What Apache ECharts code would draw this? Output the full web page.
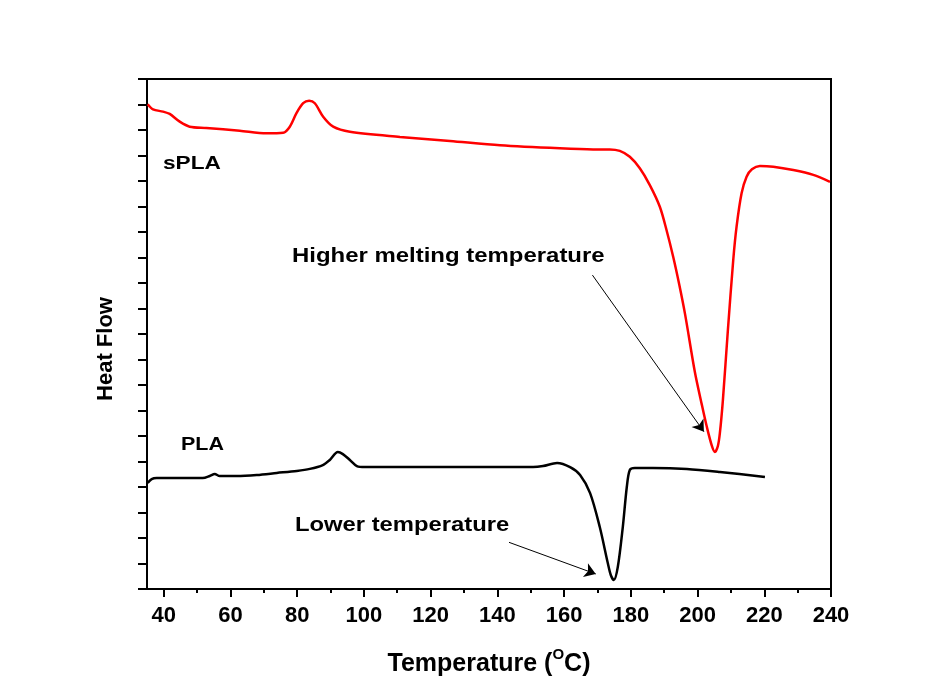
<!DOCTYPE html>
<html>
<head>
<meta charset="utf-8">
<script src="https://cdn.jsdelivr.net/npm/echarts@6/dist/echarts.min.js"></script>
<style>html,body{margin:0;padding:0;background:#fff;}#c{width:952px;height:679px;}</style>
</head>
<body>
<div id="c"></div>
<script>
// Data
const sPLA_T  = [35.2, 36.8, 39.8, 41.8, 44.8, 47.8, 52.8, 62.8, 70.8, 75.8, 77.8, 79.8, 81.8, 83.6, 85.3, 87.8, 90.8, 95.8, 110.8, 125.8, 140.8, 158.7, 168.7, 173.7, 176.7, 179.7, 182.7, 185.7, 188.7, 190.7, 192.7, 194.5, 196.3, 199.2, 201.3, 202.8, 204.3, 205.2, 206.1, 206.7, 207.6, 209.1, 210.7, 211.7, 213.2, 214.7, 216.3, 218.7, 222.7, 228.7, 234.7, 239.7];
const sPLA_HF = [19.01, 18.81, 18.72, 18.63, 18.33, 18.13, 18.08, 17.97, 17.87, 17.89, 18.13, 18.66, 19.05, 19.15, 19.05, 18.52, 18.13, 17.93, 17.73, 17.57, 17.40, 17.28, 17.24, 17.24, 17.18, 16.95, 16.50, 15.84, 14.99, 14.08, 13.03, 11.95, 10.75, 8.51, 7.22, 6.35, 5.61, 5.37, 5.61, 6.12, 7.41, 10.16, 12.90, 14.21, 15.52, 16.17, 16.46, 16.59, 16.56, 16.43, 16.24, 15.97];
const PLA_T   = [35.2, 36.4, 37.9, 43.9, 51.7, 53.8, 55.3, 56.8, 61.9, 67.9, 73.9, 79.9, 83.8, 87.7, 89.8, 92.2, 93.7, 95.8, 97.9, 100.3, 110.8, 125.8, 140.8, 150.7, 153.7, 157.9, 161.8, 164.8, 167.8, 170.7, 173.1, 174.0, 174.9, 176.1, 177.6, 178.8, 179.7, 181.2, 186.6, 196.8, 206.7, 220.2];
const PLA_HF  = [4.16, 4.31, 4.35, 4.35, 4.35, 4.43, 4.51, 4.43, 4.43, 4.47, 4.55, 4.63, 4.71, 4.86, 5.06, 5.37, 5.29, 5.06, 4.82, 4.78, 4.78, 4.78, 4.78, 4.78, 4.82, 4.94, 4.78, 4.47, 3.76, 2.43, 1.02, 0.55, 0.35, 0.86, 2.43, 4.00, 4.67, 4.75, 4.75, 4.71, 4.59, 4.39];
const xMajorTicks = [40, 60, 80, 100, 120, 140, 160, 180, 200, 220, 240];
const xMinorTicks = [50, 70, 90, 110, 130, 150, 170, 190, 210, 230];
const arrowHigh = [[168.5, 12.31], [201.9, 6.17]];
const arrowLow  = [[143.5, 1.83], [169.5, 0.59]];

const zip = (a, b) => a.map((v, i) => [v, b[i]]);
const FONT = '"Liberation Sans", Arial, sans-serif';

const chart = echarts.init(document.getElementById('c'), null, {renderer: 'canvas'});
const common = {min: 35, max: 240};
chart.setOption({
  animation: false,
  backgroundColor: '#ffffff',
  grid: {left: 147, right: 121, top: 79, bottom: 90, show: true, borderColor: '#000', borderWidth: 2, backgroundColor: 'transparent', containLabel: false, outerBoundsMode: 'none'},
  xAxis: [
    Object.assign({
      type: 'value', position: 'bottom',
      axisLine: {show: true, lineStyle: {color: '#000', width: 2}},
      axisTick: {show: true, inside: false, length: 8, lineStyle: {color: '#000', width: 2}, customValues: xMajorTicks},
      axisLabel: {show: true, customValues: xMajorTicks, margin: 16, color: '#000', fontWeight: 'bold', fontSize: 22, fontFamily: FONT},
      splitLine: {show: false},
      name: 'Temperature ({sup|O}C)', nameLocation: 'middle', nameGap: 58,
      nameTextStyle: {color: '#000', fontWeight: 'bold', fontSize: 25, fontFamily: FONT,
        rich: {sup: {fontSize: 15, fontWeight: 'bold', fontFamily: FONT, color: '#000', verticalAlign: 'top', padding: [0, 0, 20, 0]}}}
    }, common),
    Object.assign({
      type: 'value', position: 'bottom',
      axisLine: {show: false},
      axisTick: {show: true, inside: false, length: 4, lineStyle: {color: '#000', width: 2}, customValues: xMinorTicks},
      axisLabel: {show: false},
      splitLine: {show: false}
    }, common)
  ],
  yAxis: {
    type: 'value', min: 0, max: 20, interval: 1,
    axisLine: {show: true, lineStyle: {color: '#000', width: 2}},
    axisTick: {show: true, inside: false, length: 9, lineStyle: {color: '#000', width: 2}},
    axisLabel: {show: false},
    splitLine: {show: false},
    name: 'Heat Flow', nameLocation: 'middle', nameGap: 30, nameRotate: 90,
    nameTextStyle: {color: '#000', fontWeight: 'bold', fontSize: 22, fontFamily: FONT, padding: [0, 30, 0, 0]}
  },
  series: [
    {
      name: 'sPLA', type: 'line', data: zip(sPLA_T, sPLA_HF), showSymbol: false, smooth: 0.3,
      lineStyle: {color: '#ff0000', width: 2.5}, itemStyle: {color: '#ff0000'}
    },
    {
      name: 'PLA', type: 'line', data: zip(PLA_T, PLA_HF), showSymbol: false, smooth: 0.3,
      lineStyle: {color: '#000000', width: 2.5}, itemStyle: {color: '#000'},
      markLine: {
        silent: true, symbol: ['none', 'arrow'], symbolSize: 11,
        label: {show: false},
        lineStyle: {color: '#000', width: 1, type: 'solid'},
        data: [
          [{coord: arrowHigh[0]}, {coord: arrowHigh[1]}],
          [{coord: arrowLow[0]}, {coord: arrowLow[1]}]
        ]
      }
    }
  ],
  graphic: [
    {type: 'text', x: 163, y: 164, scaleX: 1.19, style: {text: 'sPLA', font: 'bold 19px ' + FONT, fill: '#000', verticalAlign: 'middle'}},
    {type: 'text', x: 181, y: 445, scaleX: 1.13, style: {text: 'PLA', font: 'bold 19px ' + FONT, fill: '#000', verticalAlign: 'middle'}},
    {type: 'text', x: 292, y: 256, scaleX: 1.14, style: {text: 'Higher melting temperature', font: 'bold 21px ' + FONT, fill: '#000', verticalAlign: 'middle'}},
    {type: 'text', x: 295, y: 525, scaleX: 1.19, style: {text: 'Lower temperature', font: 'bold 20px ' + FONT, fill: '#000', verticalAlign: 'middle'}}
  ]
});
</script>
</body>
</html>
